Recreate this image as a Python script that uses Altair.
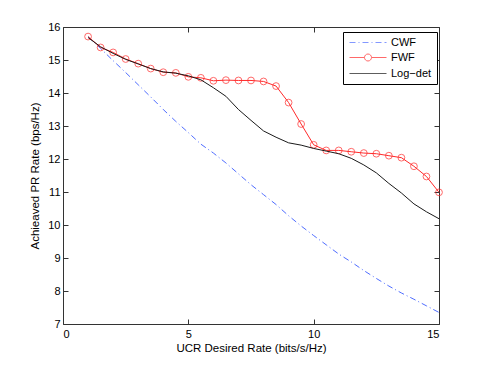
import altair as alt
import pandas as pd

# ---- data ----
x_rate = [1, 1.5, 2, 2.5, 3, 3.5, 4, 4.5, 5, 5.5, 6, 6.5, 7, 7.5, 8,
          8.5, 9, 9.5, 10, 10.5, 11, 11.5, 12, 12.5, 13, 13.5, 14, 14.5, 15]

cwf = [15.71, 15.35, 14.98, 14.62, 14.25, 13.88, 13.50, 13.14, 12.80, 12.45,
       12.18, 11.88, 11.55, 11.22, 10.92, 10.62, 10.28, 9.97, 9.68, 9.40,
       9.12, 8.88, 8.62, 8.38, 8.15, 7.94, 7.75, 7.55, 7.35]

fwf = [15.71, 15.38, 15.23, 15.03, 14.89, 14.74, 14.63, 14.61, 14.49, 14.46,
       14.37, 14.39, 14.38, 14.38, 14.35, 14.21, 13.71, 13.06, 12.43, 12.26,
       12.26, 12.22, 12.18, 12.16, 12.10, 12.04, 11.78, 11.47, 10.99]

logdet = [15.68, 15.40, 15.20, 15.02, 14.88, 14.74, 14.64, 14.60, 14.52, 14.40,
          14.16, 13.90, 13.50, 13.17, 12.85, 12.66, 12.49, 12.42, 12.32, 12.24,
          12.16, 12.02, 11.82, 11.58, 11.26, 10.97, 10.64, 10.40, 10.19]

series_names = ["CWF", "FWF", "Log\u2212det"]
x_ticks = [0, 5, 10, 15]
y_ticks = [7, 8, 9, 10, 11, 12, 13, 14, 15, 16]
x_domain = [0, 15]
y_domain = [7, 16]

# ---- styles ----
FONT = "Liberation Sans"
C_CWF = "#4f6dff"
C_FWF = "#ff2a2a"
C_LOG = "#1a1a1a"
FRAME = "#333333"
W, H = 376, 297

rows = []
for name, ys in zip(series_names, [cwf, fwf, logdet]):
    for xv, yv in zip(x_rate, ys):
        rows.append({"x": xv, "y": yv, "series": name})
df = pd.DataFrame(rows)

xs = alt.Scale(domain=x_domain, nice=False, zero=False)
ys_ = alt.Scale(domain=y_domain, nice=False, zero=False)

x_axis = alt.Axis(values=x_ticks, orient="bottom", offset=-5, tickSize=5,
                  domain=False, grid=False, tickColor=FRAME, labelPadding=4,
                  labelFont=FONT, labelFontSize=11, labelColor="black",
                  title="UCR Desired Rate (bits/s/Hz)", titleFont=FONT,
                  titleFontSize=11.5, titleFontWeight="normal", titleColor="black",
                  titleY=29, titleBaseline="middle")
y_axis = alt.Axis(values=y_ticks, orient="left", offset=-5, tickSize=5,
                  domain=False, grid=False, tickColor=FRAME, labelPadding=3,
                  labelFont=FONT, labelFontSize=11, labelColor="black",
                  title="Achieaved PR Rate (bps/Hz)", titleFont=FONT,
                  titleFontSize=11.5, titleFontWeight="normal", titleColor="black",
                  titleX=-33, titleBaseline="middle")

base = alt.Chart(df)

def series_line(name, color, dash=None):
    kw = dict(color=color, strokeWidth=1)
    if dash:
        kw["strokeDash"] = dash
    return base.transform_filter(alt.datum.series == name).mark_line(**kw).encode(
        x=alt.X("x:Q", scale=xs, axis=x_axis),
        y=alt.Y("y:Q", scale=ys_, axis=y_axis),
        order="x:Q",
    )

cwf_line = series_line("CWF", C_CWF, [6, 3, 1, 3])
fwf_line = series_line("FWF", C_FWF)
fwf_pts = base.transform_filter(alt.datum.series == "FWF").mark_point(
    shape="circle", filled=False, color=C_FWF, size=46, strokeWidth=1
).encode(x=alt.X("x:Q", scale=xs, axis=x_axis), y=alt.Y("y:Q", scale=ys_, axis=y_axis))
log_line = series_line("Log\u2212det", C_LOG)

# legend symbols (path in symbol units)
p_cwf = "M-1,0H0.5M1.25,0H1.5M2.25,0H3.75M4.5,0H4.75M5.5,0H7M7.75,0H8.25"
p_fwf = "M-1,0H2.75M4.5,0H8.25M2.75,0A0.875,0.875 0 1,0 4.5,0A0.875,0.875 0 1,0 2.75,0"
p_log = "M-1,0H8.25"

leg = alt.Legend(title=None, orient="none", legendX=280, legendY=5,
                 strokeColor="black", fillColor="white", padding=5,
                 labelFont=FONT, labelFontSize=11, labelColor="black",
                 symbolSize=64, symbolStrokeWidth=1, labelOffset=32,
                 rowPadding=3, symbolFillColor="transparent")
legend_layer = base.transform_filter("false").mark_point(filled=False).encode(
    x=alt.X("x:Q", scale=xs, axis=x_axis),
    y=alt.Y("y:Q", scale=ys_, axis=y_axis),
    color=alt.Color("series:N", scale=alt.Scale(domain=series_names,
                    range=[C_CWF, C_FWF, C_LOG]), legend=leg),
    shape=alt.Shape("series:N", scale=alt.Scale(domain=series_names,
                    range=[p_cwf, p_fwf, p_log]), legend=leg),
)

inner = alt.layer(cwf_line, fwf_line, fwf_pts, log_line, legend_layer)

# top/right inner ticks
tick_layer = base.transform_filter("false").mark_point(opacity=0).encode(
    x=alt.X("x:Q", scale=alt.Scale(domain=x_domain, nice=False, zero=False),
            axis=alt.Axis(values=x_ticks, orient="top", offset=-5, tickSize=5,
                          domain=False, labels=False, title=None, grid=False,
                          tickColor=FRAME)),
    y=alt.Y("y:Q", scale=alt.Scale(domain=y_domain, nice=False, zero=False),
            axis=alt.Axis(values=y_ticks, orient="right", offset=-5, tickSize=5,
                          domain=False, labels=False, title=None, grid=False,
                          tickColor=FRAME)),
)

chart = alt.layer(inner, tick_layer).resolve_scale(
    x="independent", y="independent"
).properties(
    width=W, height=H,
    autosize=alt.AutoSizeParams(type="none"),
    padding={"left": 55, "top": 19, "right": 30, "bottom": 30},
    background="white",
).configure_view(stroke=FRAME, strokeWidth=1)

chart.save("out.html", embed_options={"renderer": "svg", "actions": False})
